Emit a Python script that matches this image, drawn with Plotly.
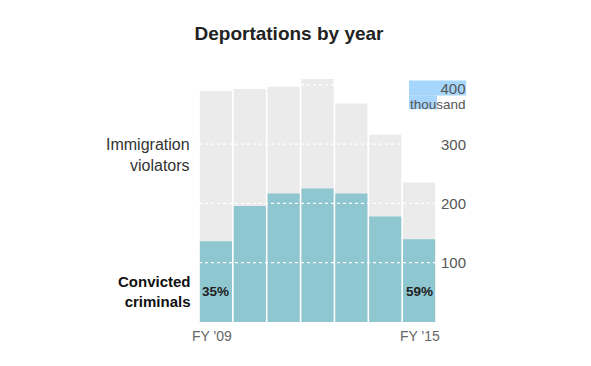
import plotly.graph_objects as go

years = ["FY '09", "FY '10", "FY '11", "FY '12", "FY '13", "FY '14", "FY '15"]
total_thousands = [389.8, 392.9, 396.9, 409.8, 368.6, 315.9, 235.4]
criminal_thousands = [136.1, 195.8, 216.7, 225.4, 216.8, 178.0, 139.4]
x_labels = ["FY '09", "", "", "", "", "", "FY '15"]
y_ticks = [100, 200, 300]
y_top_tick = 400
y_unit = "thousand"
pct_first = "35%"
pct_last = "59%"

GRAY = "#ebebeb"
TEAL = "#8fc7d1"
FONT = "Liberation Sans"

fig = go.Figure()
fig.add_trace(go.Bar(x=years, y=total_thousands, marker=dict(color=GRAY, line=dict(width=0)),
                     hoverinfo="skip"))
fig.add_trace(go.Bar(x=years, y=criminal_thousands, marker=dict(color=TEAL, line=dict(width=0)),
                     hoverinfo="skip"))

shapes = []
for v in y_ticks + [y_top_tick]:
    shapes.append(dict(type="line", xref="paper", yref="y", x0=0, x1=1, y0=v, y1=v,
                       line=dict(color="white", width=1.2, dash="dot"), layer="above"))
# selection-highlight behind the "400 thousand" label
shapes.append(dict(type="rect", xref="paper", yref="y", x0=0.886, x1=1.127, y0=382.3, y1=407.6,
                   fillcolor="#a6d6fb", line=dict(width=0), layer="above"))
shapes.append(dict(type="rect", xref="paper", yref="y", x0=0.886, x1=1.004, y0=358.8, y1=382.3,
                   fillcolor="#a6d6fb", line=dict(width=0), layer="above"))

annotations = []
tick_font = dict(family=FONT, size=15, color="#555")
for v in y_ticks:
    annotations.append(dict(xref="paper", yref="y", x=1.135, y=v, text=str(v), showarrow=False,
                            xanchor="right", yanchor="middle", font=tick_font))
annotations.append(dict(xref="paper", yref="y", x=1.135, y=y_top_tick, yshift=-11,
                        text="<span style='font-size:15px'>" + str(y_top_tick) + "</span><br>"
                             "<span style='font-size:13.5px'>" + y_unit + "</span>",
                        showarrow=False, align="right", xanchor="right", yanchor="middle",
                        font=dict(family=FONT, size=11.5, color="#555")))
for i, lab in enumerate(x_labels):
    if lab:
        annotations.append(dict(xref="x", yref="paper", x=i, y=0, yshift=-14,
                                xshift=-4 if i == 0 else 1, text=lab, showarrow=False,
                                xanchor="center", yanchor="middle",
                                font=dict(family=FONT, size=14, color="#666")))
annotations.append(dict(xref="paper", yref="y", x=-0.03, y=281, text="Immigration<br>violators",
                        showarrow=False, xanchor="right", yanchor="middle", align="right",
                        font=dict(family=FONT, size=16, color="#333")))
annotations.append(dict(xref="paper", yref="y", x=-0.025, y=51, text="<b>Convicted<br>criminals</b>",
                        showarrow=False, xanchor="right", yanchor="middle", align="right",
                        font=dict(family=FONT, size=15, color="#111")))
annotations.append(dict(xref="x", yref="y", x=-0.48, y=51, text="<b>" + pct_first + "</b>",
                        showarrow=False, xanchor="left", yanchor="middle",
                        font=dict(family=FONT, size=13.5, color="#222")))
annotations.append(dict(xref="x", yref="y", x=6.48, y=51, text="<b>" + pct_last + "</b>",
                        showarrow=False, xanchor="right", yanchor="middle",
                        font=dict(family=FONT, size=13.5, color="#222")))

# page body has an 8px margin, so figure is sized/offset to compensate
fig.update_layout(
    width=583, height=358,
    margin=dict(l=191, r=155, t=67.6, b=43.7),
    paper_bgcolor="white", plot_bgcolor="white",
    barmode="overlay", bargap=0.05, showlegend=False,
    title=dict(text="<b>Deportations by year</b>", x=0.482, xanchor="center", y=0.93, yanchor="middle",
               font=dict(family=FONT, size=19, color="#222")),
    xaxis=dict(range=[-0.5, 6.5], showticklabels=False, showgrid=False, zeroline=False,
               showline=False, ticks=""),
    yaxis=dict(range=[0, 415], showgrid=False, zeroline=False, showticklabels=False, ticks=""),
    shapes=shapes, annotations=annotations,
)

fig.write_html("out.html")
